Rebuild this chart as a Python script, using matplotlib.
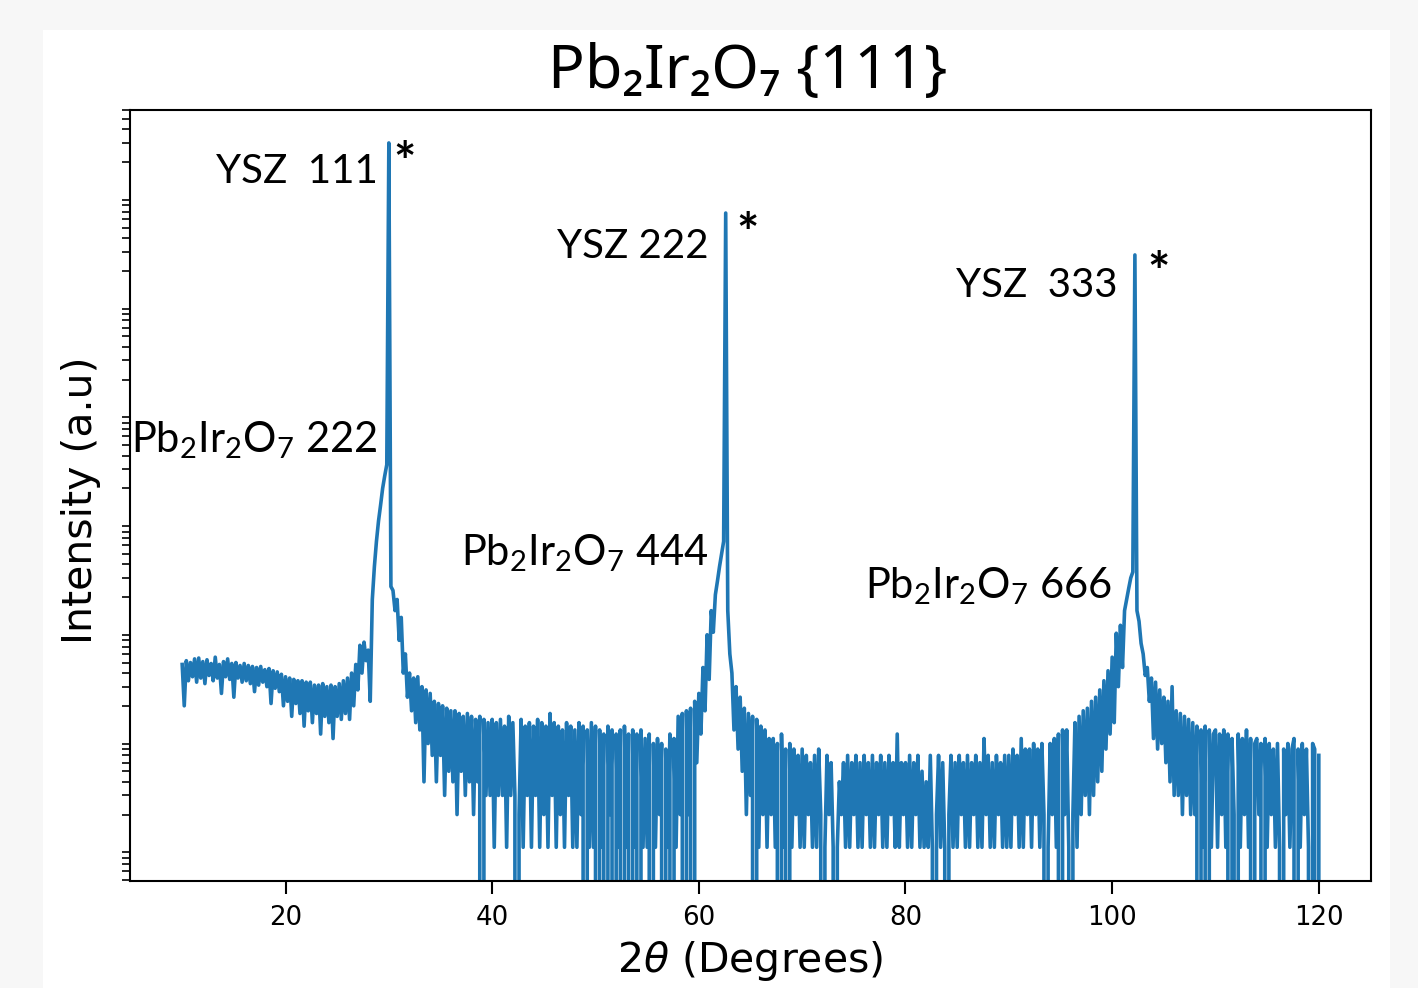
import numpy as np
import matplotlib
matplotlib.use("Agg")
import matplotlib.pyplot as plt
from matplotlib.patches import Rectangle
from matplotlib.ticker import NullFormatter

# XRD scan of Pb2Ir2O7 on YSZ (111), counts, 0.2 deg steps
two_theta = np.round(np.arange(10.0, 120.01, 0.2), 1)

counts_10 = [48, 20, 52, 34, 50, 37, 54, 33, 55, 36,
             51, 32, 53, 38, 49, 34, 56, 36, 48, 26,
             51, 37, 54, 35, 49, 24, 50, 36, 47, 33,
             49, 34, 47, 32, 46, 27, 45, 31, 46, 33,
             43, 30, 44, 21, 42, 29, 41, 27, 39, 20]
counts_20 = [37, 22, 36, 16, 35, 21, 34, 17, 34, 13,
             33, 18, 33, 14, 31, 17, 31, 11, 32, 16,
             30, 14, 31, 10, 30, 16, 32, 15, 34, 17,
             36, 15, 40, 20, 48, 28, 72, 40, 77, 52,
             65, 22, 190, 380, 650, 1000, 1400, 2000, 2600, 3300]
counts_30 = [3000000, 250, 230, 150, 190, 80, 130, 40, 60, 24,
             40, 18, 36, 14, 37, 12, 30, 4, 28, 9,
             26, 7, 22, 4, 21, 7, 20, 3, 19, 5,
             18, 4, 18, 2, 17, 5, 16, 3, 17, 4,
             16, 2, 15, 4, 16, 0, 15, 3, 14, 3]
counts_40 = [15, 1, 14, 3, 15, 3, 13, 1, 16, 3,
             14, 3, 0, 2, 15, 1, 13, 3, 14, 1,
             13, 3, 15, 1, 14, 2, 13, 1, 17, 3,
             14, 1, 13, 2, 12, 1, 14, 3, 13, 1,
             12, 1, 14, 2, 13, 0, 12, 1, 14, 1]
counts_50 = [13, 0, 12, 1, 11, 0, 13, 2, 12, 0,
             11, 1, 12, 0, 13, 1, 11, 0, 12, 1,
             11, 0, 12, 1, 10, 1, 11, 0, 9, 1,
             10, 2, 9, 0, 8, 1, 11, 0, 10, 1,
             16, 2, 17, 0, 18, 2, 19, 0, 22, 6]
counts_60 = [26, 11, 45, 18, 90, 35, 150, 95, 210, 280,
             380, 500, 650, 680000, 150, 60, 40, 12, 30, 8,
             24, 5, 19, 2, 17, 3, 16, 0, 15, 1,
             13, 2, 12, 1, 10, 2, 10, 1, 9, 0,
             11, 1, 8, 0, 9, 1, 8, 2, 7, 1]
counts_70 = [8, 1, 7, 2, 6, 1, 7, 1, 8, 2,
             0, 1, 7, 2, 6, 1, 0, 1, 4, 2,
             6, 1, 7, 1, 6, 2, 7, 1, 6, 1,
             7, 2, 6, 1, 7, 1, 6, 2, 7, 1,
             6, 1, 7, 2, 6, 1, 11, 1, 6, 2]
counts_80 = [6, 1, 7, 1, 6, 2, 7, 1, 5, 1,
             4, 1, 7, 1, 0, 2, 7, 1, 6, 1,
             0, 2, 7, 1, 6, 1, 7, 2, 6, 1,
             7, 1, 6, 2, 7, 1, 6, 1, 10, 2,
             7, 1, 6, 1, 7, 2, 6, 1, 7, 1]
counts_90 = [7, 1, 8, 2, 7, 1, 10, 1, 8, 2,
             8, 1, 9, 2, 8, 1, 9, 2, 0, 1,
             9, 2, 10, 1, 11, 0, 12, 2, 12, 1,
             0, 2, 14, 1, 16, 2, 18, 3, 19, 2,
             22, 3, 24, 4, 28, 5, 34, 8, 42, 11]
counts_100 = [56, 14, 93, 30, 110, 45, 150, 190, 240, 300,
              340, 280000, 150, 120, 75, 60, 38, 45, 22, 36,
              10, 33, 8, 28, 9, 24, 6, 22, 4, 30,
              3, 18, 3, 17, 2, 16, 3, 15, 2, 14,
              2, 13, 0, 12, 1, 13, 0, 12, 1, 11]
counts_110 = [12, 1, 11, 2, 12, 1, 11, 0, 10, 2,
              0, 11, 1, 10, 2, 12, 1, 10, 0, 9,
              10, 2, 9, 0, 10, 1, 9, 2, 8, 1,
              9, 1, 0, 8, 2, 9, 1, 8, 10, 0,
              8, 1, 9, 2, 8, 1, 0, 9, 8, 0,
              7]

counts = (counts_10 + counts_20 + counts_30 + counts_40 + counts_50 + counts_60
          + counts_70 + counts_80 + counts_90 + counts_100 + counts_110)

# peak labels: (text, x, log10 y of baseline)
ysz_labels = ["YSZ  111", "YSZ 222", "YSZ  333"]
ysz_x = [28.93, 60.9, 100.5]
ysz_y = [6.11, 5.42, 5.06]
star_x = [31.55, 64.75, 104.5]
star_y = [6.13, 5.47, 5.12]
film_labels = [r"$\mathregular{Pb_2Ir_2O_7}$ 222",
               r"$\mathregular{Pb_2Ir_2O_7}$ 444",
               r"$\mathregular{Pb_2Ir_2O_7}$ 666"]
film_x = [28.93, 60.9, 100.0]
film_y = [3.63, 2.59, 2.29]

W, H = 1418, 988
fig = plt.figure(figsize=(W / 100, H / 100), dpi=100)
fig.patch.set_facecolor("#f7f7f7")
fig.patches.append(Rectangle((43 / W, 0), (1390 - 43) / W, 1 - 30 / H,
                             transform=fig.transFigure, facecolor="white",
                             edgecolor="none", zorder=-1))

ax = fig.add_axes([130 / W, 1 - 881 / H, (1371 - 130) / W, (881 - 110) / H])
ax.patch.set_alpha(0)
ax.plot(two_theta, counts, color="#1f77b4", linewidth=2.6)
ax.set_yscale("log")
ax.set_xlim(4.95, 125.05)
ax.set_ylim(10 ** -0.31, 10 ** 6.78)

ax.set_yticks([])
ax.yaxis.set_minor_formatter(NullFormatter())
ax.set_xticks([20, 40, 60, 80, 100, 120])
ax.tick_params(axis="x", which="major", labelsize=18.7, length=9, width=1.5, pad=8)
ax.tick_params(axis="y", which="minor", length=6, width=1.2)
for s in ax.spines.values():
    s.set_linewidth(1.5)

ax.set_xlabel(r"2$\theta$ (Degrees)", fontsize=29.5)
ax.xaxis.set_label_coords(0.5, -0.075)
fig.text(81 / W, 1 - 500 / H, "Intensity (a.u)", fontsize=29.5,
         rotation=90, ha="center", va="center")

fig.text(748 / W, 1 - 73 / H, "Pb₂Ir₂O₇ {111}", fontsize=44,
         family=["Noto Sans", "DejaVu Sans"], ha="center", va="center")

for t, x, y in zip(ysz_labels, ysz_x, ysz_y):
    ax.text(x, 10 ** y, t, family="Lato", fontsize=29, ha="right", va="baseline")
for x, y in zip(star_x, star_y):
    ax.text(x, 10 ** y, "*", family="Lato", fontsize=38, fontweight="bold",
            ha="center", va="baseline")
for t, x, y in zip(film_labels, film_x, film_y):
    ax.text(x, 10 ** y, t, family="Lato", fontsize=30, ha="right", va="baseline")

plt.savefig("out.png", dpi=100, facecolor=fig.get_facecolor())
